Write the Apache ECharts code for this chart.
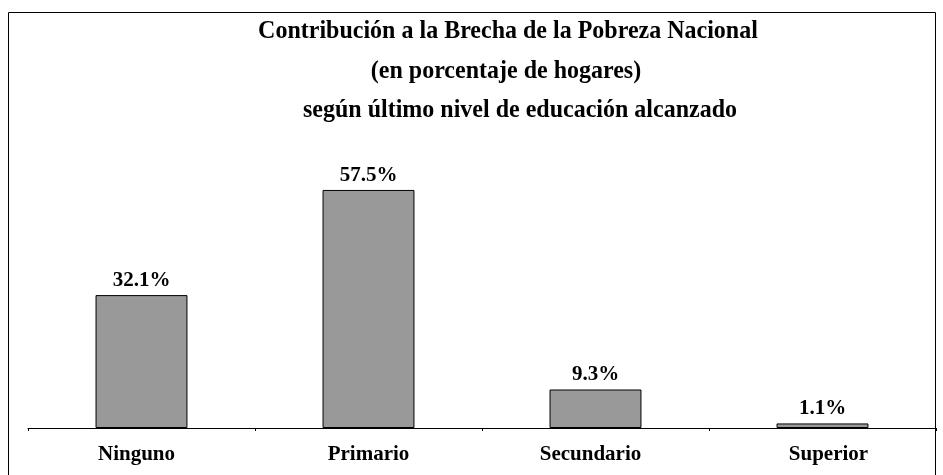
<!DOCTYPE html>
<html>
<head>
<meta charset="utf-8">
<script src="https://cdn.jsdelivr.net/npm/echarts@6/dist/echarts.min.js"></script>
<style>
  html, body { margin: 0; padding: 0; background: #fff; }
  #chart { width: 943px; height: 475px; }
</style>
</head>
<body>
<div id="chart"></div>
<script>
// Educational level categories and each one's share of the national poverty gap (%)
const categories = ['Ninguno', 'Primario', 'Secundario', 'Superior'];
const shares = [32.1, 57.5, 9.3, 1.1];
const titleLines = [
  'Contribución a la Brecha de la Pobreza Nacional',
  '(en porcentaje de hogares)',
  'según último nivel de educación alcanzado'
];

const serif = '"Liberation Serif", "Times New Roman", serif';
const chart = echarts.init(document.getElementById('chart'));

// Title lines: bold serif, one centred text element per line
const titleCenters = [508, 506, 520];
const titleMiddles = [31, 71, 110];
const titleGraphics = titleLines.map((line, i) => ({
  type: 'text',
  x: titleCenters[i],
  y: titleMiddles[i],
  scaleY: 1.05,
  silent: true,
  style: {
    text: line,
    x: 0,
    y: 0,
    textAlign: 'center',
    textVerticalAlign: 'middle',
    font: 'bold 24px ' + serif,
    fill: '#000'
  }
}));

// Small horizontal nudges of the category labels (px, + = right)
const labelNudge = [-5, 0, -5, 6];
const labelRich = {};
labelNudge.forEach((s, i) => {
  labelRich['c' + i] = {
    fontFamily: serif,
    fontWeight: 'bold',
    fontSize: 21,
    color: '#000',
    padding: s >= 0 ? [0, 0, 0, 2 * s] : [0, -2 * s, 0, 0]
  };
});

chart.setOption({
  backgroundColor: '#ffffff',
  animation: false,
  graphic: [{
    type: 'rect',
    shape: { x: 8.5, y: 12.5, width: 927, height: 500 },
    style: { fill: 'none', stroke: '#000', lineWidth: 1 },
    silent: true,
    z: -1
  }].concat(titleGraphics),
  grid: { left: 28, right: 7, top: 14, bottom: 47 },
  xAxis: {
    type: 'category',
    data: categories,
    boundaryGap: true,
    axisLine: { show: true, lineStyle: { color: '#000', width: 1 } },
    axisTick: { show: true, length: 3, lineStyle: { color: '#000' } },
    axisLabel: {
      margin: 16,
      fontFamily: serif,
      fontWeight: 'bold',
      fontSize: 21,
      color: '#000',
      formatter: (v, i) => '{c' + i + '|' + v + '}',
      rich: labelRich
    }
  },
  yAxis: {
    type: 'value',
    min: 0,
    max: 100,
    show: false,
    splitLine: { show: false }
  },
  series: [{
    type: 'bar',
    data: shares,
    barWidth: '40.5%',
    itemStyle: { color: '#999999', borderColor: '#000', borderWidth: 1 },
    label: {
      show: true,
      position: 'top',
      distance: 4,
      formatter: p => p.value.toFixed(1) + '%',
      fontFamily: serif,
      fontWeight: 'bold',
      fontSize: 21,
      color: '#000'
    }
  }]
});
</script>
</body>
</html>
